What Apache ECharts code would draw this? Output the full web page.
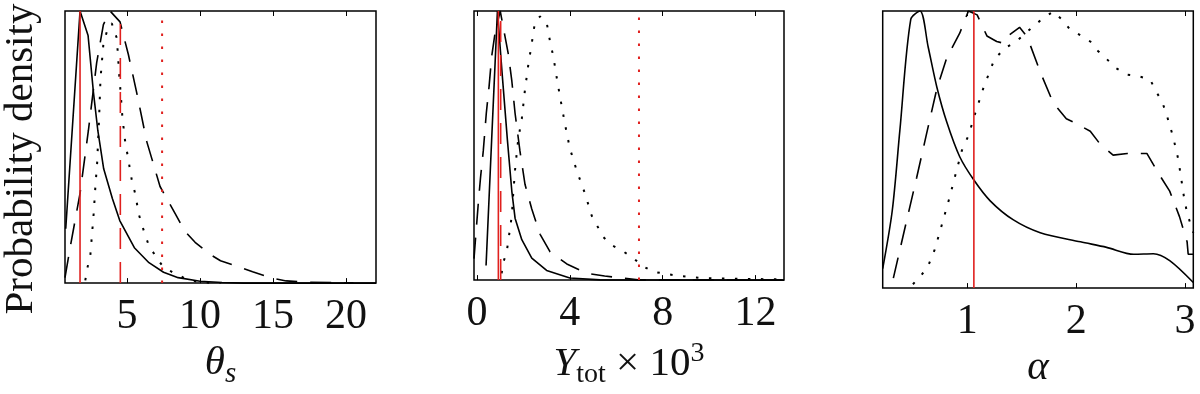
<!DOCTYPE html>
<html>
<head>
<meta charset="utf-8">
<script src="https://cdn.jsdelivr.net/npm/echarts@6/dist/echarts.min.js"></script>
<style>
  html, body { margin: 0; padding: 0; background: #fff; }
  #chart { width: 1200px; height: 394px; }
</style>
</head>
<body>
<div id="chart"></div>
<script>
// ---- panel 1: theta_s ----
const thetaSolidX = [0.8, 1.78, 2.33, 2.7, 3.0, 3.4, 4.0, 4.5, 5.5, 6.5, 7.5, 8.5, 10, 11.5, 13, 22.05]
const thetaSolidY = [0.2, 1.0, 0.91, 0.70, 0.56, 0.42, 0.31, 0.23, 0.13, 0.075, 0.04, 0.02, 0.007, 0.002, 0, 0]
const thetaDashX = [0.75, 1.1, 1.78, 2.35, 2.92, 3.38, 3.84, 4.52, 5.09, 5.66, 6.35, 7.26, 8.4, 8.97, 9.66, 10.7, 11.4, 12.7, 13.6, 14.8, 15.9, 17.3, 20.5]
const thetaDashY = [0.02, 0.13, 0.33, 0.56, 0.81, 0.95, 1.0, 0.96, 0.84, 0.70, 0.52, 0.355, 0.245, 0.19, 0.15, 0.105, 0.082, 0.059, 0.042, 0.02, 0.008, 0.003, 0.001]
const thetaDotX = [2.14, 2.26, 2.49, 2.6, 2.72, 2.83, 2.95, 3.08, 3.18, 3.38, 3.7, 3.95, 4.3, 4.47, 4.56, 4.68, 4.86, 5.1, 5.32, 5.55, 5.82, 6.16, 6.48, 7.0, 7.4, 8.1, 9.1, 10, 11.4]
const thetaDotY = [0.01, 0.05, 0.105, 0.18, 0.26, 0.355, 0.44, 0.6, 0.75, 0.88, 0.94, 0.955, 0.9, 0.76, 0.70, 0.61, 0.525, 0.45, 0.38, 0.33, 0.25, 0.19, 0.14, 0.095, 0.065, 0.04, 0.014, 0.003, 0]
const thetaRed = [1.78, 4.54, 7.40]
const thetaTicks = [5, 10, 15, 20]

// ---- panel 2: Y_tot x 10^3 ----
const ytotSolidX = [0.39, 0.63, 0.88, 1.08, 1.31, 1.5, 1.64, 1.93, 2.36, 3.0, 4.0, 5.3, 13.23]
const ytotSolidY = [0.054, 0.52, 1.0, 0.77, 0.52, 0.33, 0.23, 0.15, 0.082, 0.036, 0.008, 0.001, 0]
const ytotDashX = [-0.13, -0.05, 0.05, 0.15, 0.27, 0.4, 0.52, 0.63, 0.78, 1.0, 1.13, 1.35, 1.5, 1.64, 1.85, 2.07, 2.36, 2.72, 3.15, 3.87, 4.73, 5.5, 6.24, 6.94, 13.23]
const ytotDashY = [0.08, 0.17, 0.28, 0.38, 0.48, 0.62, 0.72, 0.83, 0.92, 1.0, 0.94, 0.84, 0.74, 0.62, 0.48, 0.355, 0.264, 0.17, 0.105, 0.06, 0.025, 0.015, 0.008, 0.001, 0]
const ytotDotX = [1.06, 1.13, 1.28, 1.42, 1.5, 1.56, 1.64, 1.71, 1.78, 1.93, 2.07, 2.21, 2.36, 2.5, 2.72, 3.0, 3.14, 3.29, 3.44, 3.58, 3.79, 4.0, 4.3, 4.66, 4.94, 5.44, 5.8, 6.24, 6.71, 7.1, 7.6, 8.15, 8.68, 9.75, 11.8, 13.2]
const ytotDotY = [0.025, 0.065, 0.105, 0.19, 0.24, 0.32, 0.41, 0.47, 0.526, 0.60, 0.71, 0.80, 0.88, 0.96, 0.98, 0.958, 0.89, 0.83, 0.75, 0.68, 0.58, 0.49, 0.406, 0.32, 0.24, 0.16, 0.13, 0.11, 0.084, 0.054, 0.031, 0.023, 0.016, 0.007, 0.004, 0.003]
const ytotRed = [0.92, 1.02, 6.98]
const ytotTicks = [0, 4, 8, 12]

// ---- panel 3: alpha ----
const alphaSolidX = [0.222, 0.31, 0.38, 0.48, 0.565, 0.64, 0.72, 0.81, 0.93, 1.06, 1.21, 1.42, 1.67, 2.04, 2.28, 2.53, 2.71, 2.86, 3.077]
const alphaSolidY = [0.07, 0.28, 0.57, 0.97, 1.0, 0.87, 0.725, 0.60, 0.474, 0.39, 0.315, 0.247, 0.20, 0.167, 0.147, 0.122, 0.124, 0.099, 0.02]
const alphaDashX = [0.32, 0.44, 0.535, 0.627, 0.72, 0.81, 0.93, 1.01, 1.09, 1.18, 1.27, 1.33, 1.38, 1.48, 1.55, 1.67, 1.79, 1.91, 2.0, 2.13, 2.22, 2.34, 2.47, 2.65, 2.77, 2.86, 2.95, 3.02, 3.03, 3.077]
const alphaDashY = [0.036, 0.24, 0.40, 0.56, 0.72, 0.83, 0.92, 1.0, 0.986, 0.91, 0.89, 0.884, 0.912, 0.941, 0.907, 0.78, 0.668, 0.611, 0.594, 0.566, 0.52, 0.48, 0.486, 0.486, 0.406, 0.35, 0.258, 0.167, 0.122, 0.122]
const alphaDotX = [0.50, 0.58, 0.64, 0.70, 0.75, 0.84, 0.90, 0.95, 1.01, 1.07, 1.15, 1.25, 1.35, 1.45, 1.61, 1.70, 1.79, 1.87, 1.94, 2.04, 2.13, 2.20, 2.28, 2.37, 2.47, 2.57, 2.68, 2.73, 2.79, 2.83, 2.89, 2.94, 2.99, 3.02, 3.077]
const alphaDotY = [0.014, 0.048, 0.08, 0.139, 0.207, 0.332, 0.423, 0.497, 0.55, 0.628, 0.725, 0.827, 0.867, 0.89, 0.946, 0.975, 0.998, 0.969, 0.935, 0.912, 0.89, 0.856, 0.827, 0.793, 0.77, 0.765, 0.753, 0.713, 0.673, 0.628, 0.548, 0.463, 0.332, 0.27, 0.2]
const alphaRed = [1.06]
const alphaTicks = [1, 2, 3]

const FONT = 'Liberation Serif'
const RED = '#e0201e'
const DASH = [21, 13]
const DOT = [2.5, 10.5]

const pairs = (xs, ys) => xs.map((x, i) => [x, ys[i]])

const panels = [
  { left: 65, width: 311, min: 0.75, max: 22.05, ticks: thetaTicks,
    name: '{i|θ}{subi|s}',
    curves: [[thetaSolidX, thetaSolidY], [thetaDashX, thetaDashY], [thetaDotX, thetaDotY]],
    smooth: [0, 0, 0],
    red: thetaRed },
  { left: 474, width: 310, min: -0.13, max: 13.23, ticks: ytotTicks,
    name: '{i|Y}{sub|tot}{n| × 10}{sup|3}',
    curves: [[ytotSolidX, ytotSolidY], [ytotDashX, ytotDashY], [ytotDotX, ytotDotY]],
    smooth: [0, 0, 0],
    red: ytotRed },
  { left: 882.7, width: 310.6, min: 0.222, max: 3.077, ticks: alphaTicks,
    name: '{i|α}',
    curves: [[alphaSolidX, alphaSolidY], [alphaDashX, alphaDashY], [alphaDotX, alphaDotY]],
    smooth: [0.3, 0, 0],
    red: alphaRed }
]
const styles = ['solid', DASH, DOT]
const widths = [1.6, 1.6, 2]

const nameRich = {
  i: { fontFamily: FONT, fontStyle: 'italic', fontSize: 41, color: '#111' },
  n: { fontFamily: FONT, fontSize: 41, color: '#111' },
  sub: { fontFamily: FONT, fontSize: 28, color: '#111', padding: [22, 0, 0, 0] },
  subi: { fontFamily: FONT, fontStyle: 'italic', fontSize: 29, color: '#111', padding: [22, 0, 0, 0] },
  sup: { fontFamily: FONT, fontSize: 28, color: '#111', padding: [0, 0, 20, 0] }
}

const grid = []
const xAxis = []
const yAxis = []
const series = []

panels.forEach((p, k) => {
  grid.push({
    left: p.left, width: p.width, top: 11, height: 293,
    show: true, borderColor: '#000', borderWidth: 1.5, backgroundColor: 'transparent'
  })
  // bottom axis with labels
  xAxis.push({
    type: 'value', gridIndex: k, min: p.min, max: p.max, position: 'bottom',
    axisLine: { show: false }, splitLine: { show: false },
    axisTick: { show: true, inside: true, length: 5, customValues: p.ticks, lineStyle: { color: '#000', width: 1 } },
    axisLabel: { customValues: p.ticks, fontFamily: FONT, fontSize: 42, color: '#111', margin: 13 },
    name: p.name, nameLocation: 'middle', nameGap: 54,
    nameTextStyle: { rich: nameRich }
  })
  // top axis, ticks only
  xAxis.push({
    type: 'value', gridIndex: k, min: p.min, max: p.max, position: 'top',
    axisLine: { show: false }, splitLine: { show: false }, axisLabel: { show: false },
    axisTick: { show: true, inside: true, length: 5, customValues: p.ticks, lineStyle: { color: '#000', width: 1 } }
  })
  yAxis.push({
    type: 'value', gridIndex: k, min: 0, max: 1,
    axisLine: { show: false }, axisTick: { show: false }, axisLabel: { show: false }, splitLine: { show: false },
    name: k === 0 ? 'Probability density' : '', nameLocation: 'middle', nameGap: 23,
    nameTextStyle: { fontFamily: FONT, fontSize: 41, color: '#111', padding: [0, 24, 0, 0] }
  })

  p.curves.forEach((c, j) => {
    series.push({
      type: 'line', xAxisIndex: 2 * k, yAxisIndex: k,
      data: pairs(c[0], c[1]), showSymbol: false, silent: true, clip: true,
      smooth: p.smooth[j],
      lineStyle: { color: '#000', width: widths[j], type: styles[j] }, z: 2
    })
  })
  p.red.forEach((v, j) => {
    series.push({
      type: 'line', xAxisIndex: 2 * k, yAxisIndex: k,
      data: [[v, 0], [v, 1]], showSymbol: false, silent: true,
      lineStyle: { color: RED, width: widths[j], type: styles[j] }, z: 3
    })
  })
})

const chart = echarts.init(document.getElementById('chart'))
chart.setOption({
  animation: false,
  backgroundColor: '#fff',
  grid, xAxis, yAxis, series
})
</script>
</body>
</html>
